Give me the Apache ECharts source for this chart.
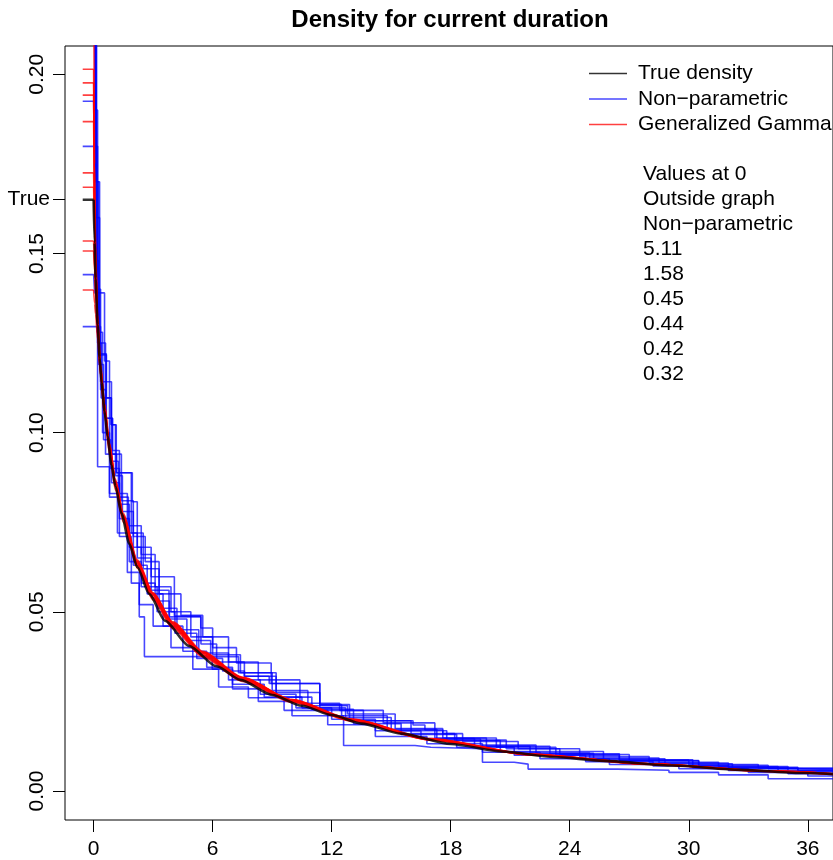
<!DOCTYPE html>
<html>
<head>
<meta charset="utf-8">
<script src="https://cdn.jsdelivr.net/npm/echarts@6/dist/echarts.min.js"></script>
<style>html,body{margin:0;padding:0;background:#fff}#c{width:833px;height:860px}</style>
</head>
<body>
<div id="c"></div>
<script>
// ---- data ----
const titleText = 'Density for current duration';
const xTicks = [0, 6, 12, 18, 24, 30, 36];
const yTicks = [0, 0.05, 0.10, 0.15, 0.20];
const trueValue = 0.1651;
const legendNames = ['True density', 'Non\u2212parametric', 'Generalized Gamma'];
const notes = ['Values at 0', 'Outside graph', 'Non\u2212parametric', '5.11', '1.58', '0.45', '0.44', '0.42', '0.32'];

// true density
const trueX = [0,0.05,0.1,0.2,0.3,0.4,0.55,0.7,0.9,1.1,1.4,1.8,2.2,2.8,3.6,4.8,6.2,7.4,9,10.5,12,13.5,15.5,18,20.6,23.2,25.7,29.2,32.6,35.8,37.3];
const trueY = [0.165,0.153,0.143,0.130,0.121,0.114,0.106,0.099,0.091,0.085,0.0775,0.069,0.0625,0.055,0.0475,0.0405,0.0348,0.031,0.0268,0.0238,0.0212,0.0188,0.016,0.0131,0.011,0.0095,0.0084,0.0071,0.0059,0.005,0.0047];

// generalized gamma fits (common x grid)
const ggX = [0,0.05,0.1,0.2,0.35,0.55,0.8,1.1,1.5,2.2,3,4,5.5,7.5,10,13,17,22,28,34,37.3];
const gg1  = [0.230,0.175,0.152,0.131,0.116,0.105,0.095,0.085,0.0758,0.0630,0.0540,0.0460,0.0380,0.0310,0.0250,0.0196,0.0142,0.0101,0.0075,0.0056,0.0048];
const gg2  = [0.2014,0.168,0.150,0.133,0.119,0.108,0.097,0.087,0.0775,0.0645,0.0553,0.0470,0.0388,0.0316,0.0254,0.0199,0.0144,0.0102,0.0075,0.0055,0.0047];
const gg3  = [0.1976,0.166,0.148,0.131,0.117,0.106,0.096,0.086,0.0765,0.0635,0.0545,0.0464,0.0383,0.0313,0.0251,0.0197,0.0143,0.0102,0.0076,0.0056,0.0048];
const gg4  = [0.1942,0.164,0.147,0.130,0.116,0.105,0.094,0.084,0.0750,0.0622,0.0533,0.0453,0.0374,0.0306,0.0247,0.0195,0.0142,0.0101,0.0075,0.0055,0.0047];
const gg5  = [0.1868,0.162,0.147,0.132,0.119,0.108,0.097,0.0865,0.0770,0.0640,0.0550,0.0468,0.0386,0.0315,0.0253,0.0198,0.0143,0.0101,0.0074,0.0054,0.0046];
const gg6  = [0.1725,0.157,0.145,0.130,0.117,0.106,0.0955,0.0855,0.0760,0.0630,0.0540,0.0460,0.0379,0.0310,0.0250,0.0197,0.0143,0.0102,0.0076,0.0056,0.0048];
const gg7  = [0.1685,0.155,0.144,0.131,0.118,0.1075,0.0965,0.0865,0.0770,0.0642,0.0552,0.0472,0.0390,0.0318,0.0255,0.0200,0.0145,0.0103,0.0076,0.0055,0.0047];
const gg8  = [0.1535,0.146,0.139,0.129,0.117,0.106,0.0955,0.0855,0.0760,0.0628,0.0538,0.0457,0.0377,0.0309,0.0250,0.0198,0.0144,0.0102,0.0076,0.0056,0.0048];
const gg9  = [0.1507,0.145,0.139,0.130,0.118,0.107,0.0965,0.0862,0.0768,0.0638,0.0548,0.0467,0.0386,0.0316,0.0254,0.0200,0.0145,0.0102,0.0075,0.0055,0.0047];
const gg10 = [0.1398,0.136,0.133,0.126,0.116,0.106,0.0955,0.0858,0.0765,0.0636,0.0546,0.0466,0.0386,0.0316,0.0255,0.0201,0.0146,0.0103,0.0076,0.0055,0.0047];

// non-parametric step estimates: [step start, value]
const np1 = [[0,5.11],[0.05,0.30],[0.12,0.16],[0.3,0.125],[0.6,0.104],[0.95,0.094],[1.4,0.081],[2.0,0.071],[2.6,0.064],[3.3,0.055],[4.4,0.049],[5.5,0.043],[6.8,0.036],[8.3,0.031],[10.4,0.0245],[12.4,0.0225],[14.6,0.019],[17.2,0.0148],[19.8,0.0125],[23,0.0104],[26.5,0.0085],[30.5,0.0068],[34.5,0.0055],[37.5,0.0055]];
const np2 = [[0,1.58],[0.08,0.25],[0.18,0.128],[0.45,0.1],[0.8,0.082],[1.2,0.072],[1.7,0.061],[2.3,0.052],[3.0,0.046],[3.9,0.040],[5.0,0.034],[6.3,0.029],[7.8,0.026],[9.6,0.0225],[11.8,0.0185],[14.2,0.0152],[16.8,0.0132],[19.6,0.0108],[22.5,0.0090],[26,0.0074],[29.5,0.0062],[33,0.0052],[36,0.0042],[37.5,0.0042]];
const np3 = [[0,0.45],[0.1,0.17],[0.25,0.119],[0.5,0.098],[0.85,0.090],[1.3,0.080],[1.8,0.068],[2.4,0.058],[3.1,0.053],[3.82,0.0486],[5.41,0.041],[6.2,0.036],[7.6,0.032],[9.2,0.0275],[11.4,0.0225],[13.6,0.0196],[16.0,0.0160],[18.6,0.0138],[21.4,0.0118],[24.5,0.0096],[28,0.0080],[31.5,0.0068],[35,0.0056],[37.5,0.0056]];
const np4 = [[0,0.44],[0.06,0.19],[0.2,0.0905],[0.8,0.083],[1.3,0.071],[1.9,0.058],[2.3,0.0486],[2.56,0.0375],[5.98,0.034],[7.0,0.0285],[8.3,0.025],[10,0.021],[12.6,0.0127],[16.2,0.0122],[17,0.0118],[19.6,0.0080],[21.2,0.0075],[21.9,0.0061],[26.4,0.0058],[29,0.0052],[31.5,0.0045],[34,0.0034],[37.5,0.0034]];
const np5 = [[0,0.42],[0.12,0.17],[0.3,0.122],[0.64,0.1097],[0.89,0.1022],[1.14,0.0888],[1.95,0.0807],[2.2,0.068],[2.9,0.0598],[4.07,0.0488],[5.4,0.0455],[6.0,0.040],[7.2,0.0357],[8.95,0.030],[11.4,0.0241],[12.9,0.0196],[16.1,0.0184],[16.7,0.017],[17.6,0.016],[18.2,0.0141],[20.5,0.011],[25.7,0.0087],[30.2,0.0065],[33,0.0060],[37.5,0.0060]];
const np6 = [[0,0.32],[0.04,0.21],[0.15,0.14],[0.35,0.112],[0.6,0.094],[0.9,0.086],[1.3,0.076],[1.8,0.064],[2.4,0.057],[3.2,0.050],[4.1,0.044],[5.2,0.037],[6.5,0.0335],[7.6,0.032],[8.85,0.030],[11.4,0.0241],[12.5,0.021],[14.8,0.0172],[17.3,0.0145],[19.5,0.0128],[22.3,0.0106],[25,0.0092],[28.5,0.0078],[32,0.0066],[35.5,0.0058],[37.5,0.0058]];
const np7 = [[0,0.1925],[0.1,0.148],[0.25,0.1217],[0.64,0.1142],[0.9,0.092],[1.25,0.082],[1.75,0.074],[2.4,0.066],[3.1,0.057],[3.9,0.050],[4.9,0.043],[6.0,0.038],[7.4,0.033],[9.2,0.0262],[11,0.0228],[13.1,0.0188],[15.5,0.0158],[18.3,0.0122],[21.2,0.0100],[24.8,0.0082],[28.2,0.0070],[32,0.0057],[35,0.0048],[37.5,0.0048]];
const np8 = [[0,0.1799],[0.2,0.125],[0.38,0.1097],[0.89,0.1022],[1.1,0.088],[1.45,0.078],[2.0,0.063],[2.7,0.055],[3.5,0.046],[4.5,0.039],[5.7,0.0345],[7.0,0.0298],[8.6,0.0262],[10.5,0.0232],[12.7,0.0205],[15.0,0.0168],[17.8,0.0142],[20.8,0.0118],[23.5,0.0102],[27,0.0084],[30.5,0.0072],[34,0.0062],[37.5,0.0062]];
const np9 = [[0,0.1441],[0.05,0.139],[0.55,0.12],[0.8,0.094],[1.16,0.0888],[1.9,0.072],[2.5,0.062],[3.3,0.051],[4.2,0.045],[5.3,0.0385],[6.8,0.031],[8.4,0.027],[10.2,0.0232],[12.0,0.0200],[14.2,0.0168],[16.5,0.0146],[19.2,0.0125],[22,0.0105],[25.2,0.0090],[28.8,0.0076],[32.2,0.0063],[35.5,0.0050],[37.5,0.0050]];
const np10 = [[0,0.1296],[0.35,0.1142],[0.64,0.104],[0.95,0.095],[1.3,0.083],[1.7,0.072],[2.2,0.065],[2.9,0.056],[3.8,0.048],[4.7,0.042],[5.9,0.0375],[7.3,0.033],[9.0,0.028],[10.8,0.0238],[12.8,0.0215],[15.2,0.0174],[17.6,0.0148],[20.3,0.0122],[23.3,0.0100],[26.5,0.0086],[30,0.0074],[33.5,0.0064],[37.5,0.0064]];

// ---- build chart ----
const FONT = '"Liberation Sans", Arial, Helvetica, sans-serif';
const FS = 21;
const C_BLACK = 'rgba(0,0,0,0.8)';
const C_BLUE = 'rgba(0,0,255,0.72)';
const C_RED = 'rgba(255,0,0,0.75)';
const DASH_X0 = -0.55;
const Y_MIN = -0.0081, Y_MAX = 0.2079;
const X_MIN = -1.443, X_MAX = 37.27;

const ggAll = [gg1, gg2, gg3, gg4, gg5, gg6, gg7, gg8, gg9, gg10];
const npAll = [np1, np2, np3, np4, np5, np6, np7, np8, np9, np10];

const series = [];
npAll.forEach(arr => {
  series.push({
    name: legendNames[1], type: 'line', step: 'end', showSymbol: false, silent: true,
    color: C_BLUE, lineStyle: { color: C_BLUE, width: 1.6 },
    data: [[DASH_X0, arr[0][1]]].concat(arr), z: 2, animation: false
  });
});
ggAll.forEach(arr => {
  series.push({
    name: legendNames[2], type: 'line', showSymbol: false, silent: true, smooth: 0.25, smoothMonotone: 'x',
    color: C_RED, lineStyle: { color: C_RED, width: 1.6 },
    data: ggX.map((x, i) => [x, arr[i]]), z: 3, animation: false
  });
  series.push({
    name: legendNames[2], type: 'line', showSymbol: false, silent: true,
    color: C_RED, lineStyle: { color: C_RED, width: 1.6 },
    data: [[DASH_X0, arr[0]], [0, arr[0]]], z: 3, animation: false
  });
});
series.push({
  name: legendNames[0], type: 'line', showSymbol: false, silent: true, smooth: 0.25, smoothMonotone: 'x',
  color: C_BLACK, lineStyle: { color: C_BLACK, width: 2.6 },
  data: trueX.map((x, i) => [x, trueY[i]]), z: 4, animation: false
});
series.push({
  name: legendNames[0], type: 'line', showSymbol: false, silent: true,
  color: C_BLACK, lineStyle: { color: C_BLACK, width: 2.6 },
  data: [[DASH_X0, trueY[0]], [0, trueY[0]]], z: 4, animation: false
});

const chart = echarts.init(document.getElementById('c'), null, { renderer: 'canvas' });
chart.setOption({
  animation: false,
  backgroundColor: '#fff',
  textStyle: { fontFamily: FONT },
  title: [
    { text: titleText, left: 450, top: 8, textAlign: 'center', padding: 0,
      textStyle: { fontFamily: FONT, fontSize: 24, fontWeight: 'bold', color: '#000' } },
    { text: notes.join('\n'), left: 643, top: 162, padding: 0,
      textStyle: { fontFamily: FONT, fontSize: FS, fontWeight: 'normal', lineHeight: 25, color: '#000' } }
  ],
  legend: {
    data: legendNames, orient: 'vertical', left: 589, top: 63, icon: 'rect',
    itemWidth: 38, itemHeight: 1.5, itemGap: 4.5, padding: 0, selectedMode: false,
    textStyle: { fontFamily: FONT, fontSize: FS, color: '#000', padding: [0, 0, 0, 6] }
  },
  grid: { left: 65, right: -2, top: 46, bottom: 40, show: true, borderColor: '#000', borderWidth: 1, containLabel: false },
  xAxis: {
    type: 'value', min: X_MIN, max: X_MAX,
    axisLine: { show: false, onZero: false }, splitLine: { show: false },
    axisTick: { show: true, length: 12, lineStyle: { color: '#000' }, customValues: xTicks },
    axisLabel: { customValues: xTicks, formatter: v => String(v), fontFamily: FONT, fontSize: FS, color: '#000', margin: 19 }
  },
  yAxis: [
    {
      type: 'value', min: Y_MIN, max: Y_MAX,
      axisLine: { show: false, onZero: false }, splitLine: { show: false },
      axisTick: { show: true, length: 12, lineStyle: { color: '#000' }, customValues: yTicks },
      axisLabel: { customValues: yTicks, formatter: v => v.toFixed(2), rotate: 90, fontFamily: FONT, fontSize: FS, color: '#000', margin: 17 }
    },
    {
      type: 'value', min: Y_MIN, max: Y_MAX, position: 'left', offset: 0,
      axisLine: { show: false, onZero: false }, splitLine: { show: false },
      axisTick: { show: true, length: 12, lineStyle: { color: '#000' }, customValues: [trueValue] },
      axisLabel: { customValues: [trueValue], formatter: () => 'True', rotate: 0, fontFamily: FONT, fontSize: FS, color: '#000', margin: 15 }
    }
  ],
  series: series
});
</script>
</body>
</html>
